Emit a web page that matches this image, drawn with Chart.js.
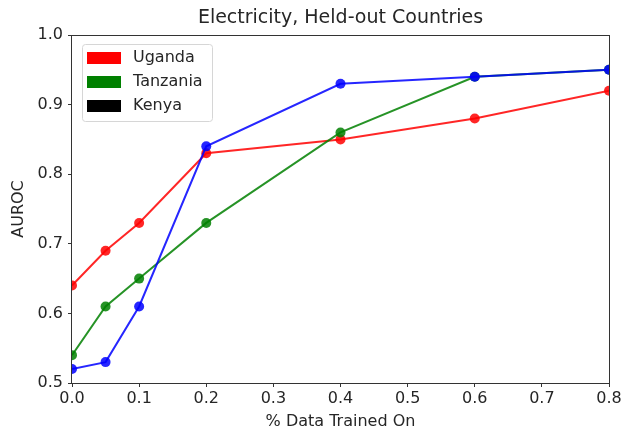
<!DOCTYPE html>
<html>
<head>
<meta charset="utf-8">
<script src="https://cdn.jsdelivr.net/npm/chart.js@4"></script>
<style>
  body { margin: 0; background: #fff; }
  #wrap { width: 621px; height: 432px; }
</style>
</head>
<body>
<div id="wrap"><canvas id="chart" width="621" height="432"></canvas></div>
<script>
const fractions = [0, 0.05, 0.1, 0.2, 0.4, 0.6, 0.8];
const uganda = [0.64, 0.69, 0.73, 0.83, 0.85, 0.88, 0.92];
const tanzania = [0.54, 0.61, 0.65, 0.73, 0.86, 0.94, 0.95];
const kenya = [0.52, 0.53, 0.61, 0.84, 0.93, 0.94, 0.95];
const seriesNames = ['Uganda', 'Tanzania', 'Kenya'];
const lineColors = ['rgba(255,0,0,0.85)', 'rgba(0,128,0,0.85)', 'rgba(0,0,255,0.85)'];
const legendColors = ['#ff0000', '#008000', '#000000'];
const titleText = 'Electricity, Held-out Countries';

const FONT = 'DejaVu Sans';
const INK = '#262626';

function toPoints(ys) {
    return fractions.map((x, i) => ({ x: x, y: ys[i] }));
}

function makeSet(i, ys) {
    return {
        label: seriesNames[i],
        data: toPoints(ys),
        order: seriesNames.length - i, // later series drawn on top, like matplotlib
        borderColor: lineColors[i],
        backgroundColor: lineColors[i],
        pointBackgroundColor: lineColors[i],
        pointBorderColor: lineColors[i],
        borderWidth: 2,
        pointRadius: 5,
        pointBorderWidth: 0,
        pointHoverRadius: 5,
        tension: 0,
        clip: { left: 0, top: 0, right: 0, bottom: 0 }
    };
}

// frame, title and matplotlib-style legend
const decor = {
    id: 'decor',
    afterDraw(chart) {
        const ctx = chart.ctx;
        const a = chart.chartArea;
        ctx.save();
        ctx.strokeStyle = '#333';
        ctx.lineWidth = 1;
        ctx.strokeRect(Math.round(a.left) - 0.5, Math.round(a.top) + 0.5,
            Math.round(a.right - a.left) + 1, Math.round(a.bottom - a.top));

        ctx.fillStyle = INK;
        ctx.font = '19px ' + FONT;
        ctx.textAlign = 'center';
        ctx.textBaseline = 'middle';
        ctx.fillText(titleText, (a.left + a.right) / 2, 18);

        const lx = a.left + 10, ly = a.top + 9, lw = 130, lh = 77;
        ctx.fillStyle = 'rgba(255,255,255,0.85)';
        ctx.strokeStyle = '#d6d6d6';
        ctx.beginPath();
        ctx.roundRect(lx + 0.5, ly + 0.5, lw, lh, 3);
        ctx.fill();
        ctx.stroke();
        ctx.font = '16px ' + FONT;
        ctx.textAlign = 'left';
        ctx.textBaseline = 'middle';
        seriesNames.forEach((name, i) => {
            const cy = ly + 14 + i * 24;
            ctx.fillStyle = legendColors[i];
            ctx.fillRect(lx + 5, cy - 6, 34, 12);
            ctx.fillStyle = INK;
            ctx.fillText(name, lx + 51, cy);
        });
        ctx.restore();
    }
};

new Chart(document.getElementById('chart'), {
    type: 'line',
    data: {
        datasets: [makeSet(0, uganda), makeSet(1, tanzania), makeSet(2, kenya)]
    },
    options: {
        responsive: false,
        animation: false,
        layout: { padding: { top: 35, right: 12, left: 0, bottom: 0 } },
        plugins: {
            legend: { display: false },
            title: { display: false },
            tooltip: { enabled: false }
        },
        scales: {
            x: {
                type: 'linear',
                min: 0,
                max: 0.8,
                afterFit(scale) {
                    scale.height = 49;
                    scale.paddingLeft = 0;
                    scale.paddingRight = 0;
                },
                grid: { drawOnChartArea: false, drawTicks: true, tickLength: 4, color: '#333' },
                border: { display: false },
                ticks: {
                    stepSize: 0.1,
                    padding: 2,
                    color: INK,
                    font: { family: FONT, size: 16 },
                    maxRotation: 0,
                    callback: v => v.toFixed(1)
                },
                title: {
                    display: true,
                    text: '% Data Trained On',
                    color: INK,
                    font: { family: FONT, size: 16 },
                    padding: { top: 0, bottom: 1 }
                }
            },
            y: {
                min: 0.5,
                max: 1.0,
                afterFit(scale) {
                    scale.width = 72;
                    scale.paddingTop = 0;
                    scale.paddingBottom = 0;
                },
                grid: { drawOnChartArea: false, drawTicks: true, tickLength: 4, color: '#333' },
                border: { display: false },
                ticks: {
                    stepSize: 0.1,
                    padding: 5,
                    color: INK,
                    font: { family: FONT, size: 16 },
                    callback: v => v.toFixed(1)
                },
                title: {
                    display: true,
                    text: 'AUROC',
                    color: INK,
                    font: { family: FONT, size: 16 },
                    padding: { top: 9, bottom: 0 }
                }
            }
        }
    },
    plugins: [decor]
});
</script>
</body>
</html>
